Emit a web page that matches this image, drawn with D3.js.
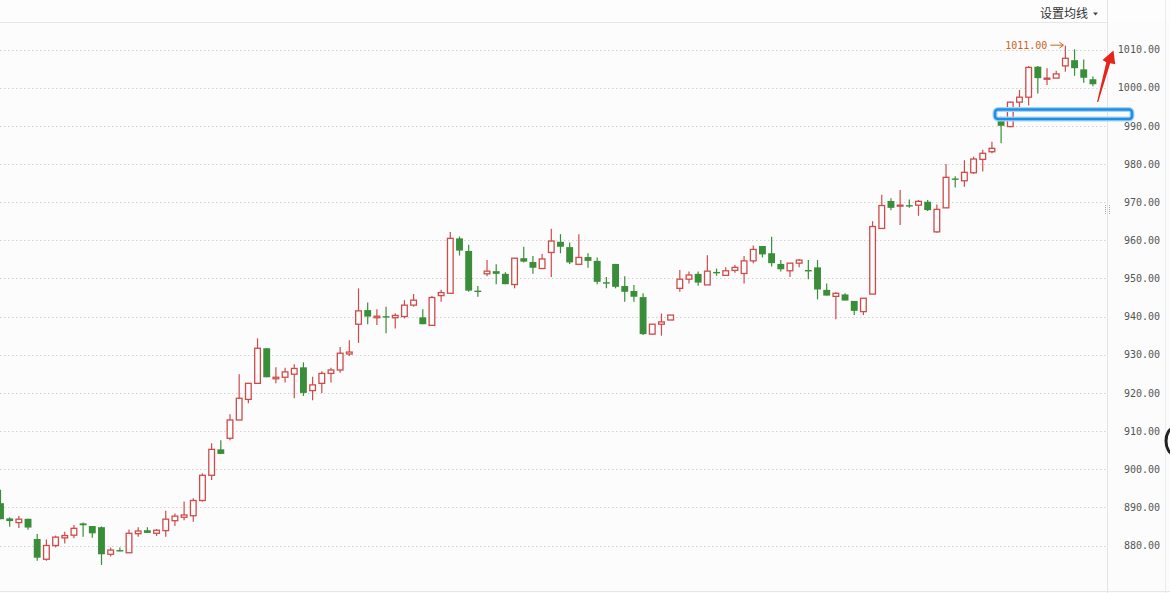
<!DOCTYPE html>
<html>
<head>
<meta charset="utf-8">
<script src="https://cdn.jsdelivr.net/npm/d3@7/dist/d3.min.js"></script>
<style>
  html, body { margin: 0; padding: 0; background: #fcfcfc; }
  svg { display: block; }
</style>
</head>
<body>
<svg id="chart" width="1170" height="593"></svg>
<script>
// ---- data ----
const open = [891.1,887.1,886.0,887.0,881.7,876.4,880.0,882.0,882.7,885.8,
  885.1,884.8,877.7,878.8,878.1,883.1,884.0,883.2,883.9,886.5,
  887.4,887.8,891.8,898.4,905.2,908.1,912.9,918.3,922.5,931.7,
  923.7,924.1,924.9,926.7,920.6,922.5,925.1,926.0,930.2,938.0,
  941.7,939.7,940.1,939.7,940.0,943.0,939.8,937.7,945.5,946.1,
  960.5,957.2,946.8,951.2,951.9,951.2,948.4,955.3,954.3,952.6,
  956.8,959.6,958.2,953.7,955.6,954.6,949.0,953.8,948.0,946.7,
  945.1,935.4,938.0,939.1,947.4,949.8,951.2,948.3,951.7,950.8,
  952.1,951.3,954.6,958.5,956.6,953.8,952.0,954.0,952.2,952.9,
  947.0,945.3,945.8,944.1,941.3,945.9,963.1,970.3,969.1,969.2,
  969.2,970.1,962.2,968.5,976.2,975.6,977.7,981.2,983.2,991.7,
  989.8,996.2,997.5,1005.5,1002.2,1002.5,1005.7,1007.2,1004.8,1002.2];
const close = [886.9,886.4,886.9,884.7,876.8,880.0,882.2,882.6,884.5,885.3,
  883.2,877.7,878.8,878.5,883.2,883.8,883.3,884.0,886.9,887.7,
  888.0,891.8,898.4,905.2,904.0,912.9,918.6,922.5,931.7,924.1,
  924.1,925.5,926.4,920.0,922.1,925.1,926.0,930.4,930.7,941.5,
  940.0,940.1,939.9,940.3,943.0,944.3,938.0,945.0,946.3,960.5,
  957.3,946.8,946.6,951.9,951.2,948.5,955.3,954.4,952.8,955.1,
  959.8,958.3,954.2,955.5,954.6,949.1,948.8,947.8,946.5,945.2,
  935.4,938.0,938.6,940.4,949.8,950.9,948.9,951.9,951.5,952.0,
  952.9,954.6,957.6,956.3,954.0,952.4,954.0,954.8,952.0,947.1,
  945.5,946.1,944.2,941.5,944.8,963.6,969.1,968.5,969.2,969.1,
  970.2,967.9,968.1,976.5,976.0,977.8,981.3,982.8,984.1,990.0,
  996.2,997.5,1005.3,1002.5,1002.5,1003.6,1007.7,1005.1,1002.6,1000.9];
const high = [894.6,887.4,887.7,887.0,883.0,881.6,882.6,883.6,885.4,886.0,
  885.1,885.0,879.5,879.5,884.2,884.8,884.8,884.3,889.1,888.4,
  891.5,892.4,898.9,906.8,907.6,914.4,924.9,922.5,934.3,931.7,
  926.7,926.6,927.5,928.0,924.2,925.7,926.6,932.0,933.8,947.4,
  943.7,941.9,942.6,940.9,944.3,945.9,941.9,945.4,947.0,962.2,
  961.0,958.8,948.0,954.8,953.7,951.6,955.3,958.3,955.9,956.4,
  963.0,961.6,959.4,961.6,956.6,955.5,950.4,953.8,950.6,948.3,
  946.1,938.0,940.8,940.4,952.2,951.8,951.8,956.1,952.6,952.9,
  953.5,955.9,958.6,958.5,960.9,954.8,954.0,955.1,954.8,954.8,
  948.7,946.4,946.1,944.1,944.8,965.0,971.9,971.0,973.2,970.7,
  970.55,970.55,969.4,980.0,976.8,981.0,981.9,983.7,985.8,992.4,
  996.3,999.4,1005.7,1005.7,1005.1,1004.4,1011.0,1010.05,1007.4,1002.9];
const low = [886.9,884.9,884.6,884.1,876.0,876.0,879.5,880.5,881.9,882.3,
  882.0,874.9,877.1,878.5,878.1,882.3,883.3,882.5,882.3,885.1,
  886.6,886.2,891.5,897.2,904.0,907.6,912.9,917.3,922.5,924.1,
  922.5,922.7,918.6,919.2,918.1,920.0,922.7,925.3,929.7,933.1,
  938.0,937.8,935.6,936.9,939.5,942.6,938.0,937.7,943.9,946.1,
  956.0,946.5,945.2,950.6,948.5,948.5,947.4,954.2,951.2,952.6,
  950.4,956.6,953.8,953.7,952.8,948.5,947.4,947.4,943.9,943.9,
  935.2,935.2,935.0,939.1,946.5,948.7,948.1,948.3,950.7,950.8,
  951.5,948.7,954.0,955.5,953.1,951.8,950.4,952.9,949.8,944.5,
  945.5,939.3,944.2,940.4,940.4,945.9,963.1,967.9,964.0,968.5,
  966.4,967.7,962.0,968.5,973.8,974.0,977.4,978.0,982.8,985.4,
  989.6,994.6,995.3,998.5,1000.7,1002.5,1004.2,1003.1,1001.3,1000.4];
const categories = open.map((_, i) => "K" + (i + 1));
const yTicks = [880, 890, 900, 910, 920, 930, 940, 950, 960, 970, 980, 990, 1000, 1010];
const maxLabel = "1011.00";
const maLabel = "设置均线";

// ---- drawing ----
const W = 1170, H = 593;
const plotRight = 1107.5;
const svg = d3.select("#chart");
const UP = "#cf4b4b", DOWN = "#3a8e3a";

const x = d3.scaleBand().domain(categories).range([-4.09, 1097.5])
  .paddingInner(0.25).paddingOuter(0.125);
const y = d3.scaleLinear().domain([880, 1010]).range([545.5, 49.5]);

// top bar
svg.append("rect").attr("x", 0).attr("y", 0).attr("width", W).attr("height", 22).attr("fill", "#fdfdfd");
svg.append("line").attr("x1", 0).attr("x2", plotRight).attr("y1", 22.5).attr("y2", 22.5)
  .attr("stroke", "#e6e6e6");
svg.append("line").attr("x1", plotRight).attr("x2", plotRight).attr("y1", 0).attr("y2", H)
  .attr("stroke", "#e3e3e3");
svg.append("line").attr("x1", 1165.5).attr("x2", 1165.5).attr("y1", 0).attr("y2", H)
  .attr("stroke", "#ececec");
svg.append("line").attr("x1", 0).attr("x2", W).attr("y1", 591.5).attr("y2", 591.5)
  .attr("stroke", "#e6e6e6");

// grid
svg.append("g").selectAll("line").data(yTicks).join("line")
  .attr("x1", 0).attr("x2", plotRight)
  .attr("y1", d => Math.round(y(d)) + 0.5).attr("y2", d => Math.round(y(d)) + 0.5)
  .attr("stroke", "#d2d2d2").attr("stroke-dasharray", "1.5,2.5");

// y axis labels
const axis = d3.axisRight(y).tickValues(yTicks).tickFormat(d3.format(".2f")).tickSize(0);
const gAxis = svg.append("g").attr("transform", "translate(1160,0)").call(axis);
gAxis.select(".domain").remove();
gAxis.selectAll("text").attr("text-anchor", "end").attr("x", 0)
  .attr("font-family", "DejaVu Sans Mono, monospace").attr("font-size", 10).attr("fill", "#555");

// grip marks
svg.append("g").selectAll("line").data([1105.5, 1109.5]).join("line")
  .attr("x1", d => d).attr("x2", d => d).attr("y1", 205).attr("y2", 215)
  .attr("stroke", "#aaa").attr("stroke-dasharray", "1,1");
svg.append("ellipse").attr("cx", 1174).attr("cy", 441).attr("rx", 8).attr("ry", 13)
  .attr("fill", "#fff").attr("stroke", "#222").attr("stroke-width", 3);

// candles
const bw = x.bandwidth();
const g = svg.append("g");
categories.forEach((c, i) => {
  const o = open[i], cl = close[i], h = high[i], l = low[i];
  const up = cl >= o;
  const col = up ? UP : DOWN;
  const cx = x(c) + bw / 2;
  const top = y(Math.max(o, cl)), bot = y(Math.min(o, cl));
  g.append("line").attr("x1", cx).attr("x2", cx).attr("y1", y(h)).attr("y2", y(l))
    .attr("stroke", col).attr("stroke-width", 1.2);
  if (up) {
    g.append("rect").attr("x", x(c) + 0.6).attr("y", top).attr("width", bw - 1.2)
      .attr("height", Math.max(bot - top, 1)).attr("fill", "#fdfdfd")
      .attr("stroke", col).attr("stroke-width", 1.3);
  } else {
    g.append("rect").attr("x", x(c)).attr("y", top).attr("width", bw)
      .attr("height", Math.max(bot - top, 1.4)).attr("fill", col);
  }
});

// top-right menu
svg.append("text").attr("x", 1040).attr("y", 17.5).text(maLabel)
  .attr("font-family", "Noto Sans CJK SC, sans-serif").attr("font-size", 12).attr("fill", "#333");
svg.append("path").attr("d", "M1093,12.5 L1098,12.5 L1095.5,15.5 Z").attr("fill", "#444");

// max label
const maxIdx = high.indexOf(d3.max(high));
const mx = x(categories[maxIdx]) + bw / 2;
const my = y(high[maxIdx]);
svg.append("text").attr("x", mx - 18).attr("y", my + 3).attr("text-anchor", "end")
  .text(maxLabel).attr("font-family", "DejaVu Sans Mono, monospace").attr("font-size", 10)
  .attr("fill", "#c8641e");
svg.append("path")
  .attr("d", `M${mx - 15},${my - 0.5} L${mx - 2},${my - 0.5} M${mx - 6},${my - 3.5} L${mx - 2},${my - 0.5} L${mx - 6},${my + 2.5}`)
  .attr("fill", "none").attr("stroke", "#c8641e").attr("stroke-width", 1);

// blue highlight box
svg.append("rect").attr("x", 995).attr("y", 109.5).attr("width", 137).attr("height", 9.5).attr("rx", 3)
  .attr("fill", "none").attr("stroke", "#a8d4f5").attr("stroke-width", 5);
svg.append("rect").attr("x", 995).attr("y", 109.5).attr("width", 137).attr("height", 9.5).attr("rx", 3)
  .attr("fill", "none").attr("stroke", "#1e8fe6").attr("stroke-width", 2.6);

// red arrow
svg.append("path")
  .attr("d", "M1097,102 L1106.3,62.3 L1102.5,60 L1113.5,50.5 L1115.2,64.2 L1110.2,63.2 L1098.2,102 Z")
  .attr("fill", "#e8231b");
</script>
</body>
</html>
